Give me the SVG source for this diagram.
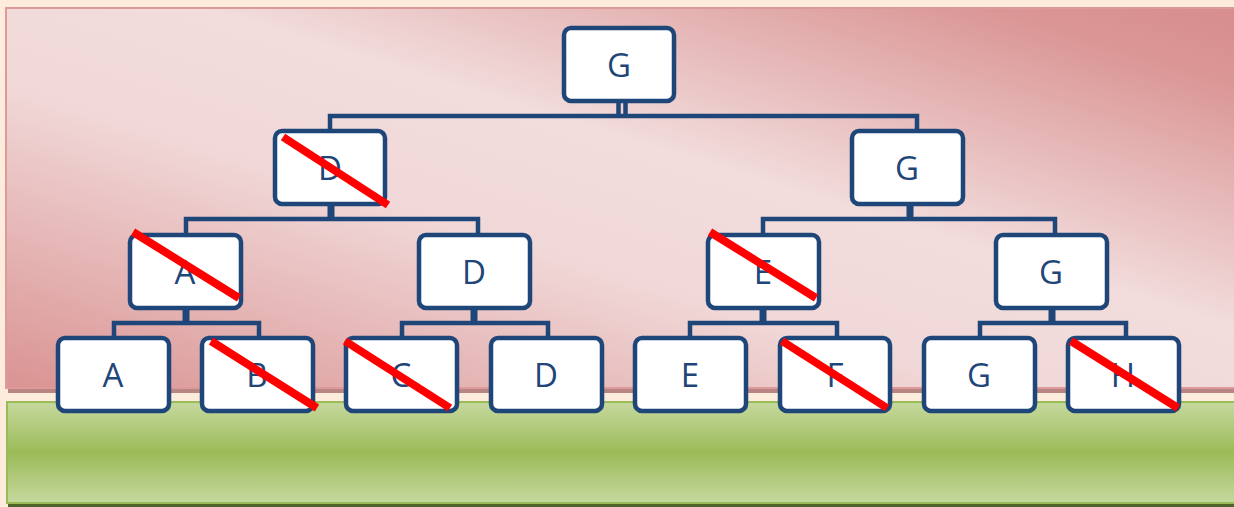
<svg xmlns="http://www.w3.org/2000/svg" width="1234" height="507" viewBox="0 0 1234 507">
<defs>
<linearGradient id="pink" x1="1" y1="0" x2="0" y2="1">
<stop offset="0" stop-color="#D88E8D"/>
<stop offset="0.1" stop-color="#DA9695"/>
<stop offset="0.42" stop-color="#F2DCDC"/>
<stop offset="0.6" stop-color="#F1D8D8"/>
<stop offset="1" stop-color="#D99392"/>
</linearGradient>
<linearGradient id="green" x1="0" y1="0" x2="0" y2="1">
<stop offset="0" stop-color="#C6D99E"/>
<stop offset="0.5" stop-color="#9BBB59"/>
<stop offset="1" stop-color="#C6D99E"/>
</linearGradient>
<style>
.box{fill:#fff;stroke:#1F4678;stroke-width:4.5}
.lbl{font-family:"Open Sans","Liberation Sans",sans-serif;font-size:33px;fill:#1F4678;text-anchor:middle;dominant-baseline:central}
.con{stroke:#1F4678;stroke-width:4.5;fill:none}
.stub{stroke:#1F4678;stroke-width:7;fill:none}
.x{stroke:#FF0000;stroke-width:8;stroke-linecap:butt}
</style>
</defs>
<rect x="0" y="0" width="1234" height="507" fill="#FDEBDB"/>
<rect x="8" y="388" width="1226" height="5" fill="#B88583"/>
<rect x="6" y="8" width="1230" height="380" fill="url(#pink)" stroke="#DC9A9A" stroke-width="2"/>
<rect x="7" y="402" width="1228" height="101" fill="url(#green)" stroke="#9BBB59" stroke-width="2"/>
<rect x="8" y="504" width="1226" height="3" fill="#4F6228"/>

<g id="connectors">
<path class="con" d="M618.5 101V116M625.5 101V116" stroke-width="3"/>
<path class="con" d="M330 131V116H917V131"/>
<path class="stub" d="M331 204V219"/>
<path class="con" d="M186 234V219H478V234"/>
<path class="stub" d="M910 204V219"/>
<path class="con" d="M763 234V219H1055V234"/>
<path class="stub" d="M186 308V323"/>
<path class="con" d="M114 338V323H259V338"/>
<path class="stub" d="M474 308V323"/>
<path class="con" d="M402 338V323H548V338"/>
<path class="stub" d="M763 308V323"/>
<path class="con" d="M690 338V323H837V338"/>
<path class="stub" d="M1052 308V323"/>
<path class="con" d="M980 338V323H1126V338"/>
</g>

<g id="n-G1"><rect class="box" x="564" y="28" width="110" height="73" rx="7"/><text class="lbl" x="619" y="64">G</text></g>
<g id="n-D2"><rect class="box" x="275" y="131" width="110" height="73" rx="7"/><text class="lbl" x="330" y="167">D</text><line class="x" x1="283" y1="137" x2="388" y2="205"/></g>
<g id="n-G2"><rect class="box" x="852" y="131" width="111" height="73" rx="7"/><text class="lbl" x="907" y="167">G</text></g>
<g id="n-A3"><rect class="box" x="130" y="235" width="111" height="73" rx="7"/><text class="lbl" x="185" y="271">A</text><line class="x" x1="133" y1="232" x2="239" y2="298"/></g>
<g id="n-D3"><rect class="box" x="419" y="235" width="111" height="73" rx="7"/><text class="lbl" x="474" y="271">D</text></g>
<g id="n-E3"><rect class="box" x="708" y="235" width="111" height="73" rx="7"/><text class="lbl" x="763" y="271">E</text><line class="x" x1="710" y1="232" x2="816" y2="298"/></g>
<g id="n-G3"><rect class="box" x="996" y="235" width="111" height="73" rx="7"/><text class="lbl" x="1051" y="271">G</text></g>
<g id="n-A4"><rect class="box" x="58" y="338" width="111" height="73" rx="7"/><text class="lbl" x="113" y="374">A</text></g>
<g id="n-B4"><rect class="box" x="202" y="338" width="111" height="73" rx="7"/><text class="lbl" x="257" y="374">B</text><line class="x" x1="211" y1="341" x2="317" y2="408"/></g>
<g id="n-C4"><rect class="box" x="346" y="338" width="111" height="73" rx="7"/><text class="lbl" x="401" y="374">C</text><line class="x" x1="345" y1="341" x2="450" y2="408"/></g>
<g id="n-D4"><rect class="box" x="491" y="338" width="111" height="73" rx="7"/><text class="lbl" x="546" y="374">D</text></g>
<g id="n-E4"><rect class="box" x="635" y="338" width="111" height="73" rx="7"/><text class="lbl" x="690" y="374">E</text></g>
<g id="n-F4"><rect class="box" x="780" y="338" width="110" height="73" rx="7"/><text class="lbl" x="835" y="374">F</text><line class="x" x1="782" y1="341" x2="887" y2="408"/></g>
<g id="n-G4"><rect class="box" x="924" y="338" width="111" height="73" rx="7"/><text class="lbl" x="979" y="374">G</text></g>
<g id="n-H4"><rect class="box" x="1068" y="338" width="111" height="73" rx="7"/><text class="lbl" x="1123" y="374">H</text><line class="x" x1="1071" y1="341" x2="1178" y2="408"/></g>
</svg>
